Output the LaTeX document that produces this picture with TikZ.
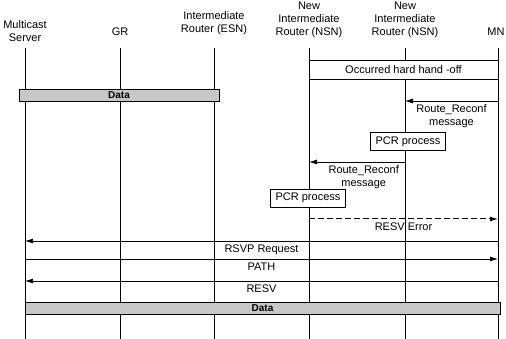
\documentclass[tikz,border=0pt]{standalone}
\usepackage{fontspec}
\setmainfont{Liberation Sans}
\usetikzlibrary{arrows.meta,positioning,calc}

\begin{document}
\begin{tikzpicture}[x=1pt, y=-1pt,
  font=\fontsize{11}{13}\selectfont,
  head/.style={align=center, inner sep=0pt},
  life/.style={line width=0.75pt},
  msg/.style={line width=0.75pt, -{Latex[length=8pt,width=5pt]}},
  errmsg/.style={msg, line width=1pt, dash pattern=on 6pt off 3pt},
  lbl/.style={align=center},
  pcrbox/.style={draw, fill=white, line width=0.8pt, minimum height=18pt, inner xsep=5pt, inner ysep=0pt},
  databar/.style={draw, fill=black!22, line width=0.8pt, minimum height=12pt, inner sep=0pt, font=\bfseries\fontsize{10}{10}\selectfont}]
  \useasboundingbox (0,0) rectangle (506,339);
  \node[head] (ms) at (25,31) {Multicast\\Server};
  \node[head] (gr) at (120,32) {GR};
  \node[head] (esn) at (214,23.5) {Intermediate\\Router (ESN)};
  \node[head] (nsna) at (309,19.5) {New\\Intermediate\\Router (NSN)};
  \node[head] (nsnb) at (405,19.5) {New\\Intermediate\\Router (NSN)};
  \node[head] (mn) at (496,32) {MN};
  \coordinate (top) at (0,48);
  \coordinate (bot) at (0,339);
  \draw[life] (ms.center |- top) -- (ms.center |- bot);
  \draw[life] (gr.center |- top) -- (gr.center |- bot);
  \draw[life] (esn.center |- top) -- (esn.center |- bot);
  \draw[life] (nsna.center |- top) -- (nsna.center |- bot);
  \draw[life] (nsnb.center |- top) -- (nsnb.center |- bot);
  \draw[life] (498,48) -- (498,339);
  \coordinate (mnline) at (498,48);
  \coordinate (h1) at (nsna.center |- 0,60);
  \coordinate (h2) at (mnline |- 0,79);
  \draw[fill=white, line width=0.75pt] (h1) rectangle (h2);
  \node (hoff) at ($(h1)!0.5!(h2)$) {Occurred hard hand -off};
  \node[databar, minimum width=200pt] (data1) at (119,95) {Data};
  \coordinate (r1) at (0,101);
  \coordinate (r2) at (0,162);
  \coordinate (r3) at (0,219);
  \coordinate (r4) at (0,241);
  \coordinate (r5) at (0,259);
  \coordinate (r6) at (0,281);
  \draw[msg] (mnline |- r1) -- node[below, lbl] (rr1) {Route\_Reconf\\message} (nsnb.center |- r1);
  \node[pcrbox] (pcr1) at (408,141.5) {PCR process};
  \draw[msg] (nsnb.center |- r2) -- node[below, lbl, pos=0.43] (rr2) {Route\_Reconf\\message} (nsna.center |- r2);
  \node[pcrbox] (pcr2) at (308,198) {PCR process};
  \draw[errmsg] (nsna.center |- r3) -- node[below] (err) {RESV Error} (mnline |- r3);
  \draw[msg] (mnline |- r4) -- node[below] (req) {RSVP Request} (ms.center |- r4);
  \draw[msg] (ms.center |- r5) -- node[below] (path) {PATH} (mnline |- r5);
  \draw[msg] (mnline |- r6) -- node[below] (resv) {RESV} (ms.center |- r6);
  \node[databar, minimum width=475pt] (data2) at (262.5,308) {Data};
\end{tikzpicture}
\end{document}
